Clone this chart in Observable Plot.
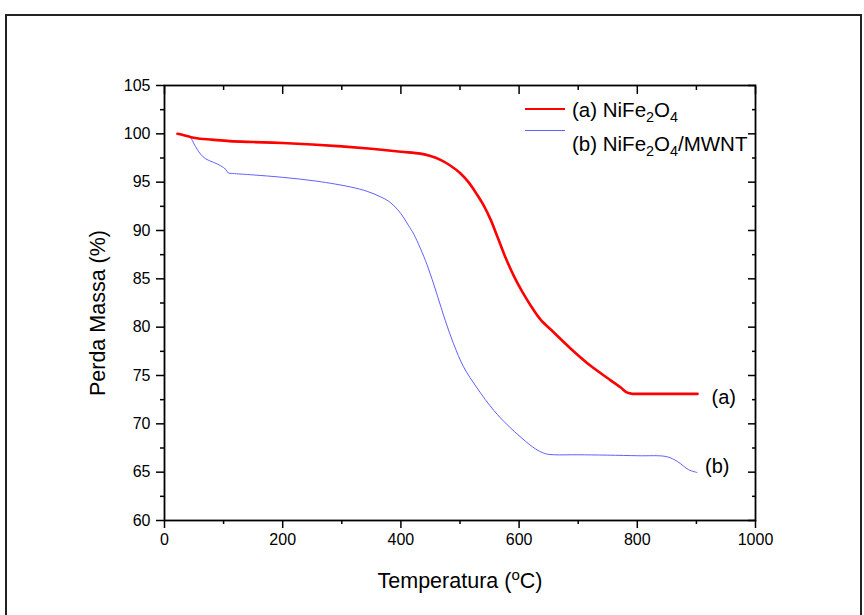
<!DOCTYPE html>
<html>
<head>
<meta charset="utf-8">
<script src="https://cdn.jsdelivr.net/npm/d3@7"></script>
<script src="https://cdn.jsdelivr.net/npm/@observablehq/plot@0.6"></script>
<style>
  html, body { margin: 0; padding: 0; background: #fff; overflow: hidden; }
  body { width: 864px; height: 615px; position: relative; font-family: "Liberation Sans", Arial, sans-serif; }
  #frame { position: absolute; left: 5px; top: 14px; width: 857px; height: 620px; border: 2px solid #222; box-sizing: border-box; }
  #chart { position: absolute; left: 0; top: 0; }
  .lbl { position: absolute; color: #000; white-space: nowrap; font-family: "Liberation Sans", Arial, sans-serif; line-height: 1; }
  .lbl sub, .lbl sup { font-size: 70%; }
  .leg-line { position: absolute; height: 0; }
</style>
</head>
<body>
<div id="frame"></div>
<div id="chart"></div>
<div class="leg-line" style="left:525px; top:108px; width:40px; border-top:2.6px solid #ff0000;"></div>
<div class="lbl" style="left:572px; top:100px; font-size:20.5px;">(a) NiFe<sub>2</sub>O<sub>4</sub></div>
<div class="leg-line" style="left:525px; top:130px; width:40px; border-top:1.2px solid #6060ff;"></div>
<div class="lbl" style="left:572px; top:134px; font-size:20.5px;">(b) NiFe<sub>2</sub>O<sub>4</sub>/MWNT</div>
<div class="lbl" style="left:460px; top:580px; font-size:21.5px; transform: translate(-50%,-50%);">Temperatura (<sup>o</sup>C)</div>
<div class="lbl" style="left:99px; top:313px; font-size:21.5px; transform: translate(-50%,-50%) rotate(-90deg);">Perda Massa (%)</div>
<script>
// Series (a) NiFe2O4
const tempA = [22, 30, 45, 60, 80, 110, 150, 200, 250, 300, 350, 400, 433, 450, 467, 484, 501, 515, 529, 540, 552, 563, 577, 591, 605, 619, 636, 658, 687, 721, 755, 772, 782, 790, 800, 850, 902];
const massA = [100.0, 99.9, 99.65, 99.5, 99.4, 99.25, 99.15, 99.05, 98.9, 98.7, 98.45, 98.15, 97.95, 97.7, 97.3, 96.7, 95.9, 94.95, 93.7, 92.6, 91.1, 89.4, 87.2, 85.3, 83.7, 82.3, 80.8, 79.5, 77.8, 76.0, 74.5, 73.75, 73.25, 73.12, 73.1, 73.1, 73.1];
// Series (b) NiFe2O4/MWNT
const tempB = [22, 35, 44, 50, 61, 70, 83, 95, 104, 108, 115, 150, 200, 258, 315, 343, 365, 380, 394, 405, 413, 422, 444, 461, 475, 489, 506, 529, 557, 580, 605, 628, 645, 660, 700, 800, 850, 868, 887, 901];
const massB = [100.0, 99.8, 99.6, 98.95, 97.9, 97.4, 97.05, 96.7, 96.3, 95.95, 95.9, 95.75, 95.5, 95.1, 94.5, 94.05, 93.5, 93.0, 92.2, 91.3, 90.5, 89.6, 86.5, 83.4, 80.7, 78.3, 75.9, 73.7, 71.4, 69.9, 68.5, 67.4, 66.9, 66.8, 66.8, 66.7, 66.6, 66.1, 65.25, 64.97];
const seriesLabels = ["(a)", "(b)"];
// Axis ticks
const xMajor = [0, 200, 400, 600, 800, 1000];
const xMinor = [100, 300, 500, 700, 900];
const yMajor = [60, 65, 70, 75, 80, 85, 90, 95, 100, 105];
const yMinor = [62.5, 67.5, 72.5, 77.5, 82.5, 87.5, 92.5, 97.5, 102.5];

const dataA = tempA.map((t, i) => ({T: t, v: massA[i]}));
const dataB = tempB.map((t, i) => ({T: t, v: massB[i]}));
const endA = [{T: tempA[tempA.length - 1], v: massA[massA.length - 1], label: seriesLabels[0]}];
const endB = [{T: tempB[tempB.length - 1], v: massB[massB.length - 1], label: seriesLabels[1]}];

const noLabel = () => "";
const plain = d => String(d);
const chart = Plot.plot({
  width: 864,
  height: 615,
  marginLeft: 164,
  marginRight: 109,
  marginTop: 85,
  marginBottom: 95,
  style: {fontFamily: "Liberation Sans, Arial, sans-serif", color: "#000", background: "transparent"},
  x: {domain: [0, 1000]},
  y: {domain: [60, 105]},
  marks: [
    Plot.axisX({anchor: "bottom", ticks: xMajor, tickSize: 8, tickPadding: 5, fontSize: 16, tickFormat: plain, label: null, strokeWidth: 1.5}),
    Plot.axisX({anchor: "bottom", ticks: xMinor, tickSize: 4, tickFormat: noLabel, label: null, strokeWidth: 1.5}),
    Plot.axisX({anchor: "top", ticks: xMajor, tickSize: -8, tickFormat: noLabel, label: null, strokeWidth: 1.5}),
    Plot.axisX({anchor: "top", ticks: xMinor, tickSize: -4, tickFormat: noLabel, label: null, strokeWidth: 1.5}),
    Plot.axisY({anchor: "left", ticks: yMajor, tickSize: 8, tickPadding: 6, fontSize: 16, tickFormat: plain, label: null, strokeWidth: 1.5}),
    Plot.axisY({anchor: "left", ticks: yMinor, tickSize: 4, tickFormat: noLabel, label: null, strokeWidth: 1.5}),
    Plot.axisY({anchor: "right", ticks: yMajor, tickSize: -8, tickFormat: noLabel, label: null, strokeWidth: 1.5}),
    Plot.axisY({anchor: "right", ticks: yMinor, tickSize: -4, tickFormat: noLabel, label: null, strokeWidth: 1.5}),
    Plot.frame({stroke: "#000", strokeWidth: 1.8}),
    Plot.line(dataB, {x: "T", y: "v", stroke: "#6060ff", strokeWidth: 1, curve: "catmull-rom"}),
    Plot.line(dataA, {x: "T", y: "v", stroke: "#ff0000", strokeWidth: 2.6, curve: "catmull-rom"}),
    Plot.text(endA, {x: "T", y: "v", text: "label", dx: 14, dy: 4, textAnchor: "start", fontSize: 20, fill: "#000"}),
    Plot.text(endB, {x: "T", y: "v", text: "label", dx: 8, dy: -6, textAnchor: "start", fontSize: 20, fill: "#000"})
  ]
});
document.getElementById("chart").appendChild(chart);
</script>
</body>
</html>
